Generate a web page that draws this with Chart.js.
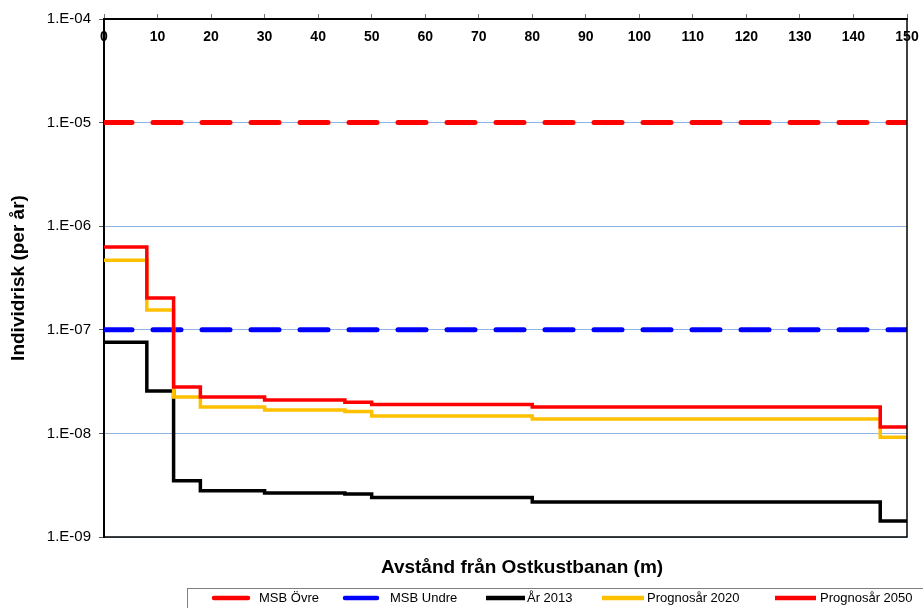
<!DOCTYPE html>
<html>
<head>
<meta charset="utf-8">
<script src="https://cdn.jsdelivr.net/npm/chart.js@4.4.0/dist/chart.umd.min.js"></script>
<style>
  html, body { margin: 0; padding: 0; background: #fff; }
  #wrap { width: 923px; height: 608px; position: relative; }
</style>
</head>
<body>
<div id="wrap"><canvas id="riskChart" width="923" height="608"></canvas></div>
<script>
// Distances (m) where the risk level changes, last point closes the final step
const distances = [0, 8, 13, 18, 30, 45, 50, 80, 145, 150];
const risk2013 = [7.6e-8, 2.56e-8, 3.5e-9, 2.8e-9, 2.66e-9, 2.6e-9, 2.4e-9, 2.18e-9, 1.43e-9, 1.43e-9];
const risk2020 = [4.7e-7, 1.55e-7, 2.25e-8, 1.8e-8, 1.68e-8, 1.63e-8, 1.47e-8, 1.38e-8, 9.2e-9, 9.2e-9];
const risk2050 = [6.3e-7, 2.03e-7, 2.8e-8, 2.25e-8, 2.1e-8, 2.0e-8, 1.9e-8, 1.8e-8, 1.15e-8, 1.15e-8];

// MSB criteria lines
const limitDistances = [0, 150];
const msbUpper = [1e-5, 1e-5];
const msbLower = [1e-7, 1e-7];

// Axis ticks
const xTicks = [0, 10, 20, 30, 40, 50, 60, 70, 80, 90, 100, 110, 120, 130, 140, 150];
const yTicks = [1e-9, 1e-8, 1e-7, 1e-6, 1e-5, 1e-4];

const xTitle = 'Avstånd från Ostkustbanan (m)';
const yTitle = 'Individrisk (per år)';

const FONT = '"Liberation Sans", Arial, sans-serif';

function toPoints(xs, ys) {
    return xs.map((x, i) => ({ x: x, y: ys[i] }));
}

function formatExp(v) {
    const e = Math.round(Math.log10(v));
    const abs = Math.abs(e);
    return '1.E' + (e < 0 ? '-' : '+') + (abs < 10 ? '0' : '') + abs;
}

const datasets = [
    {
        label: 'MSB Övre',
        data: toPoints(limitDistances, msbUpper),
        borderColor: '#ff0000',
        borderWidth: 5,
        borderDash: [28, 21],
        borderCapStyle: 'round',
        order: 5
    },
    {
        label: 'MSB Undre',
        data: toPoints(limitDistances, msbLower),
        borderColor: '#0000ff',
        borderWidth: 5,
        borderDash: [28, 21],
        borderCapStyle: 'round',
        order: 4
    },
    {
        label: 'År 2013',
        data: toPoints(distances, risk2013),
        borderColor: '#000000',
        borderWidth: 3.5,
        stepped: 'before',
        order: 3
    },
    {
        label: 'Prognosår 2020',
        data: toPoints(distances, risk2020),
        borderColor: '#ffc000',
        borderWidth: 3.5,
        stepped: 'before',
        order: 2
    },
    {
        label: 'Prognosår 2050',
        data: toPoints(distances, risk2050),
        borderColor: '#ff0000',
        borderWidth: 3.5,
        stepped: 'before',
        order: 1
    }
];

// Extra drawing: frame, inner x labels, bottom title, legend box
const decorPlugin = {
    id: 'decor',
    afterDraw(chart) {
        const ctx = chart.ctx;
        const a = chart.chartArea;
        const xs = chart.scales.x;
        ctx.save();

        // right and bottom frame
        ctx.strokeStyle = '#000';
        ctx.lineWidth = 1.5;
        ctx.beginPath();
        ctx.moveTo(a.right, a.top);
        ctx.lineTo(a.right, a.bottom);
        ctx.lineTo(a.left, a.bottom);
        ctx.stroke();

        // x tick labels sit just below the top axis
        ctx.fillStyle = '#000';
        ctx.font = 'bold 14px ' + FONT;
        ctx.textAlign = 'center';
        ctx.textBaseline = 'middle';
        xTicks.forEach(function(v) {
            ctx.fillText(String(v), xs.getPixelForValue(v), a.top + 18);
        });

        // x axis title at the bottom
        ctx.font = 'bold 19px ' + FONT;
        ctx.fillText(xTitle, 522, 568);

        // legend
        ctx.strokeStyle = '#7f7f7f';
        ctx.lineWidth = 1;
        ctx.strokeRect(187.5, 588.5, 760, 40);

        const slots = [[214, 248, 259], [345, 377, 390], [486, 525, 527], [602, 644, 647], [775, 816, 820]];
        ctx.font = '13px ' + FONT;
        ctx.textAlign = 'left';
        datasets.forEach(function(ds, i) {
            const s = slots[i];
            ctx.strokeStyle = ds.borderColor;
            ctx.lineWidth = 4.5;
            ctx.lineCap = ds.borderDash ? 'round' : 'butt';
            ctx.beginPath();
            ctx.moveTo(s[0], 598);
            ctx.lineTo(s[1], 598);
            ctx.stroke();
            ctx.fillStyle = '#000';
            ctx.fillText(ds.label, s[2], 598);
        });

        ctx.restore();
    }
};

const chart = new Chart(document.getElementById('riskChart').getContext('2d'), {
    type: 'line',
    data: { datasets: datasets },
    options: {
        responsive: false,
        devicePixelRatio: 1,
        animation: false,
        layout: { padding: { left: 0, top: 0, right: 16, bottom: 71 } },
        elements: {
            point: { radius: 0 },
            line: { tension: 0 }
        },
        plugins: {
            legend: { display: false },
            tooltip: { enabled: false }
        },
        scales: {
            x: {
                type: 'linear',
                position: 'top',
                min: 0,
                max: 150,
                afterBuildTicks: function(scale) {
                    scale.ticks = xTicks.map(v => ({ value: v }));
                },
                afterFit: function(scale) { scale.height = 19; },
                ticks: { display: false },
                grid: {
                    drawOnChartArea: false,
                    drawTicks: true,
                    tickLength: 5,
                    tickColor: '#777'
                },
                border: { color: '#000', width: 2 }
            },
            y: {
                type: 'logarithmic',
                min: 1e-9,
                max: 1e-4,
                afterBuildTicks: function(scale) {
                    scale.ticks = yTicks.map(v => ({ value: v }));
                },
                afterFit: function(scale) { scale.width = 104; },
                ticks: {
                    callback: function(v) { return formatExp(v); },
                    color: '#000',
                    font: { family: FONT, size: 15 },
                    padding: 8
                },
                grid: {
                    color: '#8db4e2',
                    lineWidth: 1,
                    tickLength: 5,
                    tickColor: '#555'
                },
                border: { color: '#000', width: 2 },
                title: {
                    display: true,
                    text: yTitle,
                    color: '#000',
                    font: { family: FONT, size: 19, weight: 'bold' },
                    padding: { top: 7, bottom: 0 }
                }
            }
        }
    },
    plugins: [decorPlugin]
});
</script>
</body>
</html>
